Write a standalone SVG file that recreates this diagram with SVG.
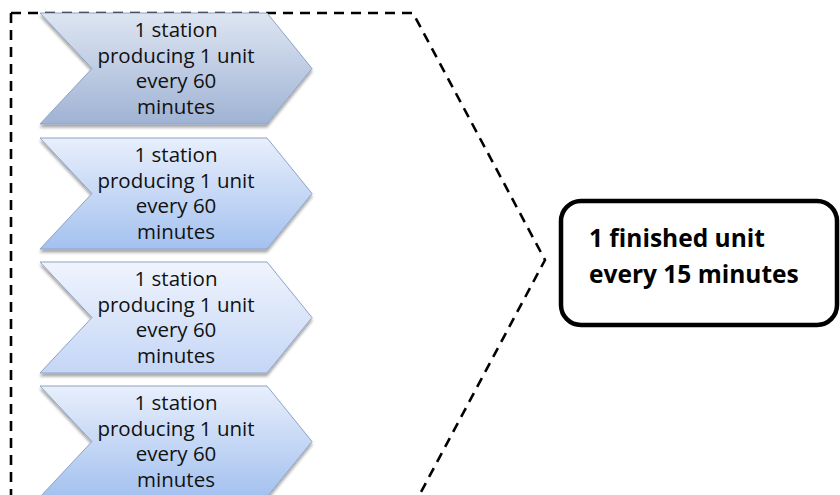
<svg xmlns="http://www.w3.org/2000/svg" width="840" height="495" viewBox="0 0 840 495">
  <defs>
    <linearGradient id="gSlate" x1="0" y1="0" x2="0" y2="1">
      <stop offset="0" stop-color="#dde5f2"/>
      <stop offset="1" stop-color="#a0b3d4"/>
    </linearGradient>
    <linearGradient id="gBlue" x1="0" y1="0" x2="0" y2="1">
      <stop offset="0" stop-color="#e8effc"/>
      <stop offset="1" stop-color="#a4c1ef"/>
    </linearGradient>
    <linearGradient id="gPale" x1="0" y1="0" x2="0" y2="1">
      <stop offset="0" stop-color="#f0f4fd"/>
      <stop offset="1" stop-color="#c4d6f6"/>
    </linearGradient>
    <filter id="shadow" x="-10%" y="-10%" width="120%" height="130%">
      <feGaussianBlur in="SourceAlpha" stdDeviation="1.6"/>
      <feOffset dx="0" dy="2.5" result="b"/>
      <feComponentTransfer><feFuncA type="linear" slope="0.35"/></feComponentTransfer>
      <feMerge><feMergeNode/><feMergeNode in="SourceGraphic"/></feMerge>
    </filter>
    <!-- one chevron step, origin at its top-left corner -->
    <polygon id="chevron" points="0,0 227,0 272,55.5 227,111 0,111 52,55.5"/>
  </defs>
  <style>
    .step { stroke: #8fa3c4; stroke-width: 1; filter: url(#shadow); }
    .lbl { font-family: "Open Sans", "Liberation Sans", sans-serif; font-size: 20.5px; fill: #111; text-anchor: middle; }
    .out { font-family: "Open Sans", "Liberation Sans", sans-serif; font-size: 24.5px; font-weight: bold; fill: #000; }
    .frame { fill: none; stroke: #000; stroke-width: 2.6; stroke-dasharray: 10 7; }
  </style>

  <!-- connectors: dashed bracket gathering the stations toward the output -->
  <g id="connectors">
    <path class="frame" d="M11,13 H413 L545,260 L413,507 M11,13 V500"/>
  </g>

  <g id="station1">
    <use href="#chevron" x="40" y="13" class="step" fill="url(#gSlate)"/>
    <text class="lbl" x="176" y="37">1 station</text>
    <text class="lbl" x="176" y="62.7">producing 1 unit</text>
    <text class="lbl" x="176" y="88.4">every 60</text>
    <text class="lbl" x="176" y="114.1">minutes</text>
  </g>

  <g id="station2">
    <use href="#chevron" x="40" y="138" class="step" fill="url(#gBlue)"/>
    <text class="lbl" x="176" y="162">1 station</text>
    <text class="lbl" x="176" y="187.7">producing 1 unit</text>
    <text class="lbl" x="176" y="213.4">every 60</text>
    <text class="lbl" x="176" y="239.1">minutes</text>
  </g>

  <g id="station3">
    <use href="#chevron" x="40" y="262" class="step" fill="url(#gPale)"/>
    <text class="lbl" x="176" y="286">1 station</text>
    <text class="lbl" x="176" y="311.7">producing 1 unit</text>
    <text class="lbl" x="176" y="337.4">every 60</text>
    <text class="lbl" x="176" y="363.1">minutes</text>
  </g>

  <g id="station4">
    <use href="#chevron" x="40" y="386" class="step" fill="url(#gBlue)"/>
    <text class="lbl" x="176" y="410">1 station</text>
    <text class="lbl" x="176" y="435.7">producing 1 unit</text>
    <text class="lbl" x="176" y="461.4">every 60</text>
    <text class="lbl" x="176" y="487.1">minutes</text>
  </g>

  <g id="output">
    <rect x="561" y="201" width="276" height="124" rx="20" ry="20" fill="#fff" stroke="#000" stroke-width="4.5"/>
    <text class="out" x="589" y="247">1 finished unit</text>
    <text class="out" x="589" y="283">every 15 minutes</text>
  </g>
</svg>
